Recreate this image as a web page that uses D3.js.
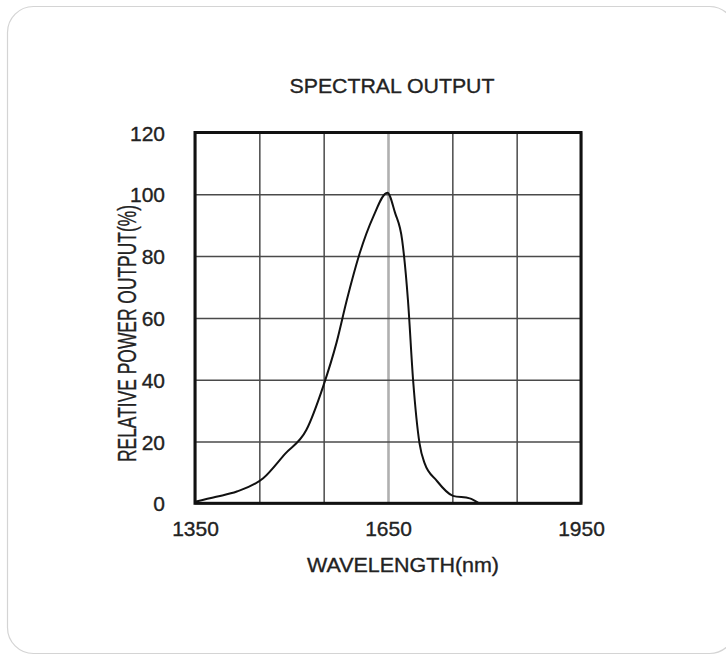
<!DOCTYPE html>
<html>
<head>
<meta charset="utf-8">
<script src="https://cdn.jsdelivr.net/npm/d3@7"></script>
<style>
  html, body { margin: 0; padding: 0; background: #fff; }
  svg { display: block; }
  text { font-family: "Liberation Sans", Arial, sans-serif; fill: #222; stroke: #222; stroke-width: 0.35px; }
</style>
</head>
<body>
<svg id="chart" width="726" height="656"></svg>
<script>
// ---- data ----
const titleText = "SPECTRAL OUTPUT";
const xTitleText = "WAVELENGTH(nm)";
const yTitleText = "RELATIVE POWER OUTPUT(%)";
const wavelength = [1350, 1383, 1415, 1456, 1490, 1523, 1549, 1570, 1586, 1606, 1627, 1649, 1661, 1672, 1681, 1689, 1699, 1707, 1725, 1751, 1777, 1790];
const power      = [0.5, 2.1, 3.8, 8.1, 16, 23.7, 37.7, 52, 65.8, 80.9, 92.7, 100.5, 94, 85.2, 65.8, 39.9, 19.4, 12.9, 7.5, 2.4, 1.6, 0.2];
const xGridValues = [1350, 1450, 1550, 1650, 1750, 1850, 1950];
const xTickLabels = [1350, 1650, 1950];
const yTickValues = [0, 20, 40, 60, 80, 100, 120];
const highlightX = 1650;

// ---- layout ----
const svg = d3.select("#chart");
const L = 195, R = 581, T = 132.5, B = 503.3;
const x = d3.scaleLinear().domain([1350, 1950]).range([L, R]);
const y = d3.scaleLinear().domain([0, 120]).range([B, T]);

// card
svg.append("rect")
  .attr("x", 7.5).attr("y", 6.5).attr("width", 728).attr("height", 647)
  .attr("rx", 26).attr("ry", 26)
  .attr("fill", "#fff").attr("stroke", "#d4d4d4").attr("stroke-width", 1.2);

// gridlines via axes
const gridColor = "#4a4a4a";
const xGrid = svg.append("g").attr("transform", `translate(0,${B})`)
  .call(d3.axisBottom(x).tickValues(xGridValues).tickSize(-(B - T)).tickFormat(""));
xGrid.select(".domain").remove();
xGrid.selectAll(".tick line")
  .attr("stroke", d => d === highlightX ? "#b0b0b0" : gridColor)
  .attr("stroke-width", d => d === highlightX ? 2.6 : 1.5);

const yGrid = svg.append("g").attr("transform", `translate(${L},0)`)
  .call(d3.axisLeft(y).tickValues(yTickValues).tickSize(-(R - L)).tickFormat(""));
yGrid.select(".domain").remove();
yGrid.selectAll(".tick line").attr("stroke", gridColor).attr("stroke-width", 1.5);

// tick labels
const xLab = svg.append("g").attr("transform", `translate(0,${B})`)
  .call(d3.axisBottom(x).tickValues(xTickLabels).tickSize(0).tickPadding(0).tickFormat(d3.format("d")));
xLab.select(".domain").remove();
xLab.selectAll("text")
  .attr("y", 33).attr("dy", null)
  .style("font-size", "21px").style("font-family", "'Liberation Sans', Arial, sans-serif").attr("fill", "#222");

const yLab = svg.append("g").attr("transform", `translate(${L},0)`)
  .call(d3.axisLeft(y).tickValues(yTickValues).tickSize(0).tickPadding(30).tickFormat(d3.format("d")));
yLab.select(".domain").remove();
yLab.selectAll("text")
  .attr("dy", "0.36em")
  .style("font-size", "21px").style("font-family", "'Liberation Sans', Arial, sans-serif").attr("fill", "#222");

// curve
const pts = wavelength.map((w, i) => [w, power[i]]);
svg.append("path")
  .datum(pts)
  .attr("fill", "none").attr("stroke", "#111").attr("stroke-width", 2)
  .attr("stroke-linejoin", "round")
  .attr("d", d3.line().x(d => x(d[0])).y(d => y(d[1])).curve(d3.curveMonotoneX));

// frame
svg.append("rect")
  .attr("x", L).attr("y", T).attr("width", R - L).attr("height", B - T)
  .attr("fill", "none").attr("stroke", "#111").attr("stroke-width", 3);

// titles
svg.append("text").attr("x", 392).attr("y", 93).attr("text-anchor", "middle")
  .style("font-size", "21px").attr("textLength", 205).attr("lengthAdjust", "spacingAndGlyphs")
  .text(titleText);
svg.append("text").attr("x", 403).attr("y", 572).attr("text-anchor", "middle")
  .style("font-size", "21px").attr("textLength", 192).attr("lengthAdjust", "spacingAndGlyphs")
  .text(xTitleText);
svg.append("text")
  .attr("transform", "translate(135.5,333.5) rotate(-90)")
  .attr("text-anchor", "middle")
  .style("font-size", "26px").attr("textLength", 257).attr("lengthAdjust", "spacingAndGlyphs")
  .text(yTitleText);
</script>
</body>
</html>
